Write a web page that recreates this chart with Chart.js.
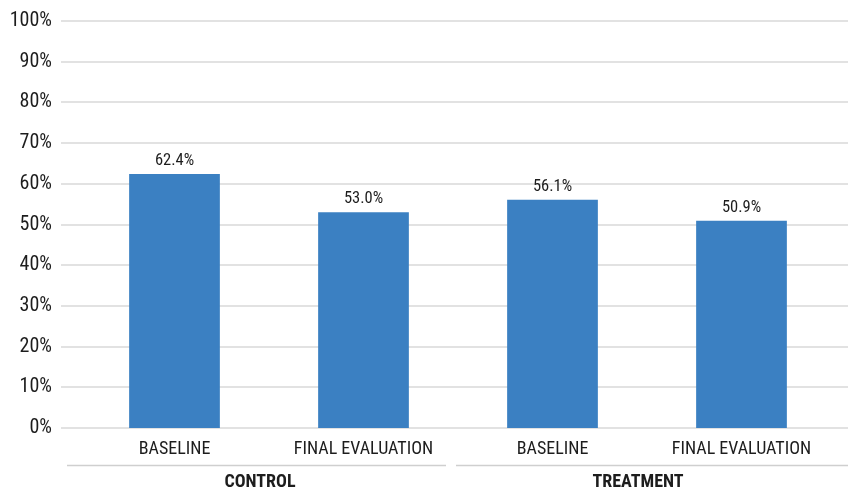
<!DOCTYPE html>
<html><head><meta charset="utf-8">
<script src="https://cdn.jsdelivr.net/npm/chart.js@4/dist/chart.umd.min.js"></script>
<style>html,body{margin:0;padding:0;background:#fff}#wrap{width:848px;height:489px}</style>
</head><body><div id="wrap"><canvas id="c" width="848" height="489"></canvas></div>
<script>
const categories = ['BASELINE', 'FINAL EVALUATION', 'BASELINE', 'FINAL EVALUATION'];
const groups = ['CONTROL', 'TREATMENT'];
const groupSizes = [2, 2];
const values = [62.4, 53.0, 56.1, 50.9];
const yTicks = [0, 10, 20, 30, 40, 50, 60, 70, 80, 90, 100];

const FONT = "'Roboto Condensed', 'DejaVu Sans Condensed', sans-serif";
const TEXT = '#1d1d1d';

const overlay = {
  id: 'overlay',
  beforeDatasetsDraw(chart) {
    const { ctx, scales: { y }, chartArea } = chart;
    ctx.save();
    ctx.strokeStyle = '#d9d9d9';
    ctx.lineWidth = 1.5;
    yTicks.forEach(v => {
      const py = Math.round(y.getPixelForValue(v));
      ctx.beginPath();
      ctx.moveTo(chartArea.left - 19, py);
      ctx.lineTo(chart.width, py);
      ctx.stroke();
    });
    ctx.restore();
  },
  afterDatasetsDraw(chart) {
    const { ctx, scales: { x } } = chart;
    const meta = chart.getDatasetMeta(0);
    ctx.save();
    ctx.fillStyle = TEXT;
    ctx.font = '16.5px ' + FONT;
    ctx.textAlign = 'center';
    ctx.textBaseline = 'alphabetic';
    meta.data.forEach((b, i) => {
      ctx.fillText(values[i].toFixed(1) + '%', b.x, b.y - 9);
    });
    const half = (x.getPixelForValue(1) - x.getPixelForValue(0)) / 2;
    let idx = 0;
    ctx.strokeStyle = '#cfcfcf';
    ctx.lineWidth = 1.5;
    ctx.font = 'bold 18px ' + FONT;
    ctx.textBaseline = 'middle';
    groups.forEach((g, gi) => {
      const first = idx, last = idx + groupSizes[gi] - 1;
      idx += groupSizes[gi];
      const x0 = x.getPixelForValue(first) - half;
      const x1 = x.getPixelForValue(last) + half;
      const start = gi === 0 ? x0 - 13 : x0 - 2;
      const end = gi === groups.length - 1 ? chart.width : x1 - 12;
      const ly = x.top + 37.5;
      ctx.beginPath();
      ctx.moveTo(start, ly);
      ctx.lineTo(end, ly);
      ctx.stroke();
      ctx.fillText(g, (x0 + x1) / 2 - 9, x.top + 54);
    });
    ctx.restore();
  }
};

new Chart(document.getElementById('c'), {
  type: 'bar',
  data: {
    labels: categories,
    datasets: [{
      data: values,
      backgroundColor: '#3b80c2',
      borderWidth: 0,
      barPercentage: 0.48,
      categoryPercentage: 1
    }]
  },
  options: {
    responsive: false,
    animation: false,
    devicePixelRatio: 1,
    layout: { padding: { top: 21, right: 12, left: 0, bottom: 0 } },
    plugins: { legend: { display: false }, tooltip: { enabled: false } },
    scales: {
      x: {
        grid: { display: false, drawTicks: false },
        border: { display: false },
        ticks: { color: TEXT, font: { family: FONT, size: 18 }, padding: 11, maxRotation: 0, autoSkip: false },
        afterFit(s) { s.height = 61; }
      },
      y: {
        min: 0, max: 100,
        grid: { display: false, drawTicks: true, tickLength: 28 },
        border: { display: false },
        afterBuildTicks(s) { s.ticks = yTicks.map(v => ({ value: v })); },
        ticks: { color: TEXT, font: { family: FONT, size: 20 }, padding: 0, callback: v => v + '%' },
        afterFit(s) { s.width = 80; }
      }
    }
  },
  plugins: [overlay]
});
</script>
</body></html>
